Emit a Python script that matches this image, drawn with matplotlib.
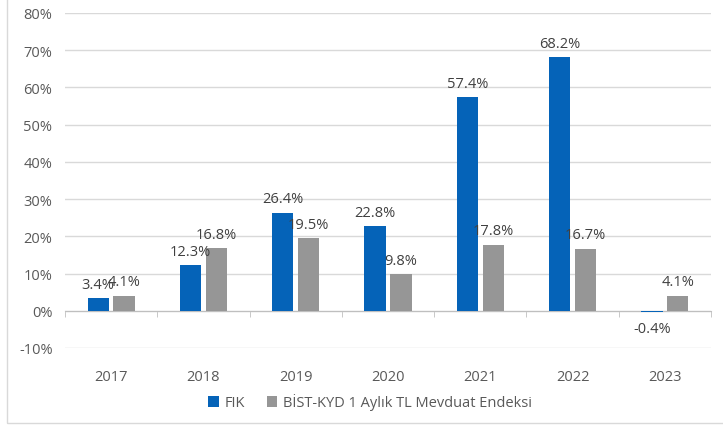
import numpy as np
import matplotlib
matplotlib.use("Agg")
import matplotlib.pyplot as plt
from matplotlib.patches import Rectangle
from matplotlib.ticker import FixedLocator, FuncFormatter

plt.rcParams['font.family'] = ['Open Sans', 'DejaVu Sans']

# veriler
years = ["2017", "2018", "2019", "2020", "2021", "2022", "2023"]
fik = [3.4, 12.3, 26.4, 22.8, 57.4, 68.2, -0.4]
bist = [4.1, 16.8, 19.5, 9.8, 17.8, 16.7, 4.1]
series_names = ["FIK", "BİST-KYD 1 Aylık TL Mevduat Endeksi"]

blue = "#0563B8"
gray = "#969696"
text_col = "#595959"
grid_col = "#D9D9D9"
fs = 10.5

fig = plt.figure(figsize=(7.23, 4.27), dpi=100)
ax = fig.add_axes([65 / 723, 78 / 427, 646 / 723, 335 / 427])

x = np.arange(len(years))
w = 0.23
off = 0.14
b1 = ax.bar(x - off, fik, w, color=blue, label=series_names[0], zorder=3)
b2 = ax.bar(x + off, bist, w, color=gray, label=series_names[1], zorder=3)

# veri etiketleri
for bars, vals in [(b1, fik), (b2, bist)]:
    for rect, v in zip(bars, vals):
        cx = rect.get_x() + rect.get_width() / 2
        dy = 10 if v >= 0 else -12
        ax.annotate(f"{v:.1f}%", (cx, v), xytext=(0, dy),
                    textcoords="offset points", ha="center", va="center",
                    fontsize=fs, color="#404040", zorder=5)

ax.set_xlim(-0.5, len(years) - 0.5)
ax.set_ylim(-10, 80)
ax.set_yticks(np.arange(-10, 81, 10))
ax.yaxis.set_major_formatter(FuncFormatter(lambda v, p: f"{v:.0f}%"))
ax.yaxis.grid(True, color=grid_col, linewidth=1, zorder=0)
ax.set_axisbelow(True)
ax.tick_params(axis="y", length=0, labelsize=fs, labelcolor=text_col, pad=9)

for s in ["top", "right", "left"]:
    ax.spines[s].set_visible(False)
ax.spines["bottom"].set_position(("data", 0))
ax.spines["bottom"].set_color("#BFBFBF")
ax.spines["bottom"].set_zorder(2)

ax.set_xticks(x)
ax.set_xticklabels(years)
ax.xaxis.set_minor_locator(FixedLocator(np.arange(-0.5, len(years), 1.0)))
ax.tick_params(axis="x", which="major", length=0, labelsize=fs,
               labelcolor=text_col, pad=42)
ax.tick_params(axis="x", which="minor", length=4, color="#BFBFBF",
               direction="out")

fig.legend(handles=[b1, b2], loc="center", bbox_to_anchor=(370 / 723, 1 - 403 / 427),
           ncol=2, frameon=False, fontsize=fs, labelcolor=text_col,
           handlelength=0.7, handleheight=0.7, handletextpad=0.4,
           columnspacing=1.5)

# dış çerçeve
fig.patches.append(Rectangle((7 / 723, 3 / 427), 1.0, 1.0,
                             transform=fig.transFigure, fill=False,
                             edgecolor=grid_col, linewidth=1))

fig.savefig("out.png", dpi=100)
